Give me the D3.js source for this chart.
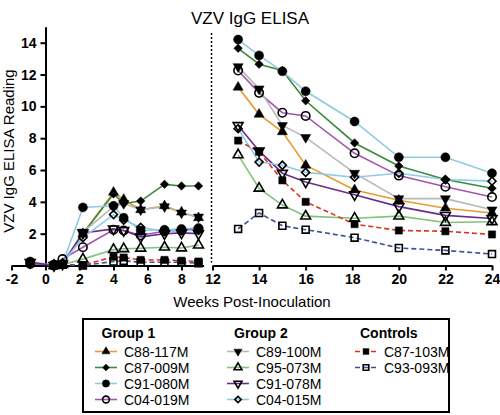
<!DOCTYPE html>
<html><head><meta charset="utf-8">
<script src="https://cdn.jsdelivr.net/npm/d3@7"></script>
<style>
body{margin:0;background:#fff}
svg{display:block}
text{font-family:"Liberation Sans",Arial,sans-serif;fill:#000}
</style>
</head><body>
<svg id="chart" width="500" height="415"></svg>
<script>
// ---- data ----
const weeksEarly = [-0.9, 0.5, 1, 2.2, 4, 4.6, 5.6, 7, 8, 9];
const weeksLate = [13.1, 14, 15, 16, 18.1, 20, 22, 24];
const seriesNames = ["C88-117M","C87-009M","C91-080M","C04-019M","C89-100M","C95-073M","C91-078M","C04-015M","C87-103M","C93-093M"];
const seriesGroups = ["Group 1","Group 1","Group 1","Group 1","Group 2","Group 2","Group 2","Group 2","Controls","Controls"];
const groupNames = ["Group 1","Group 2","Controls"];
const yTicks = [2,4,6,8,10,12,14];
const xTicksEarly = [-2,0,2,4,6,8];
const xTicksLate = [12,14,16,18,20,22,24];

const early_C88_117M = [null, 0, 0.1, 2.0, 4.6, 4.15, 3.5, 3.75, 3.35, 3.0];
const late_C88_117M  = [11.2, 9.5, 8.4, 6.3, 4.75, 4.1, 3.6, 3.3];
const early_C87_009M = [null, 0, 0.1, 2.0, 4.5, 3.9, 4.05, 5.1, 5.0, 5.0];
const late_C87_009M  = [13.65, 12.65, 12.25, 10.35, 7.7, 6.25, 5.4, 4.85];
const early_C91_080M = [0.25, 0, 0.1, 3.65, 3.75, 3.0, 2.2, 2.25, 2.3, 2.35];
const late_C91_080M  = [14.2, 13.2, 12.2, 10.95, 9.05, 6.8, 6.8, 5.8];
const early_C04_019M = [0.1, 0.05, 0.4, 1.15, 2.25, 2.2, 1.9, 2.15, 2.2, 2.3];
const late_C04_019M  = [12.25, 10.85, 9.6, 9.4, 7.05, 5.65, 4.95, 4.3];
const early_C89_100M = [null, 0, 0.1, 2.1, 3.7, 3.9, 3.5, 3.7, 3.3, 3.05];
const late_C89_100M  = [12.5, 11.1, 8.8, 8.05, 5.8, 4.2, 4.2, 3.5];
const early_C95_073M = [null, 0, 0.05, 0.4, 1.0, 1.05, 1.08, 1.15, 1.1, 1.28];
const late_C95_073M  = [6.95, 4.85, 3.8, 3.1, 2.97, 3.1, 2.7, 2.75];
const early_C91_078M = [0.2, 0, 0.1, 2.05, 2.3, 2.2, 1.8, 2.0, 2.05, 2.0];
const late_C91_078M  = [8.8, 7.2, 5.8, 5.25, 4.45, 3.7, 3.15, 2.95];
const early_C04_015M = [null, 0, 0.15, 1.75, 3.2, 2.85, 2.4, 2.15, 2.2, 2.2];
const late_C04_015M  = [8.6, 6.5, 6.3, 5.85, 5.55, 5.8, 5.4, 5.3];
const early_C87_103M = [null, 0.05, 0.05, 0.02, 0.55, 0.5, 0.35, 0.35, 0.3, 0.25];
const late_C87_103M  = [7.85, 7.15, 5.35, 4.0, 2.6, 2.2, 2.15, 1.95];
const early_C93_093M = [null, 0, 0.05, 0, 0.25, 0.3, 0.2, 0.2, 0.2, 0.15];
const late_C93_093M  = [2.3, 3.3, 2.5, 2.25, 1.75, 1.1, 0.95, 0.72];

const earlyValues = [early_C88_117M, early_C87_009M, early_C91_080M, early_C04_019M, early_C89_100M, early_C95_073M, early_C91_078M, early_C04_015M, early_C87_103M, early_C93_093M];
const lateValues  = [late_C88_117M, late_C87_009M, late_C91_080M, late_C04_019M, late_C89_100M, late_C95_073M, late_C91_078M, late_C04_015M, late_C87_103M, late_C93_093M];

// ---- styles ----
const seriesColors = ["#E89A30","#3C8A3C","#8ECBE2","#A555B0","#B8B8B8","#80C47C","#6A2C8C","#8ECBE8","#E0301E","#3A4F9E"];
const seriesDashed = [false,false,false,false,false,false,false,false,true,true];
const seriesShapes = [
  {t:d3.symbolTriangle, s:44, fill:true, rot:0},
  {t:d3.symbolSquare, s:36, fill:true, rot:45},
  {t:d3.symbolCircle, s:64, fill:true, rot:0},
  {t:d3.symbolCircle, s:56, fill:false, rot:0},
  {t:d3.symbolTriangle, s:44, fill:true, rot:180},
  {t:d3.symbolTriangle, s:42, fill:false, rot:0},
  {t:d3.symbolTriangle, s:42, fill:false, rot:180},
  {t:d3.symbolSquare, s:32, fill:false, rot:45},
  {t:d3.symbolSquare, s:52, fill:true, rot:0},
  {t:d3.symbolSquare, s:48, fill:false, rot:0}
];

const svg = d3.select("#chart");

const y = d3.scaleLinear().domain([0,15]).range([265.5, 26.8]);
const xE = d3.scaleLinear().domain([-2, 9.3]).range([11.5, 11.5 + 11.3*17]);
const xL = d3.scaleLinear().domain([12, 24]).range([212.5, 492]);

// title
svg.append("text").attr("x", 250).attr("y", 24).attr("text-anchor","middle")
  .style("font-size","17px").text("VZV IgG ELISA");

// y label
svg.append("text").attr("transform","translate(14,151) rotate(-90)").attr("text-anchor","middle")
  .style("font-size","15px").text("VZV IgG ELISA Reading");

// x label
svg.append("text").attr("x", 252).attr("y", 307).attr("text-anchor","middle")
  .style("font-size","15px").text("Weeks Post-Inoculation");

// axes
function styleAxis(g){
  g.selectAll(".domain").attr("stroke","#000").attr("stroke-width",2);
  g.selectAll(".tick line").attr("stroke","#000").attr("stroke-width",2);
  g.selectAll(".tick text").style("font-size","14px").style("font-weight","bold")
    .style("font-family","'Liberation Sans',Arial,sans-serif");
}
const gxE = svg.append("g").attr("transform",`translate(0,${y(0)})`)
  .call(d3.axisBottom(xE).tickValues(xTicksEarly).tickSize(5).tickSizeOuter(0).tickPadding(4)
    .tickFormat(d => d < 0 ? "-" + Math.abs(d) : d));
styleAxis(gxE);
const gxL = svg.append("g").attr("transform",`translate(0,${y(0)})`)
  .call(d3.axisBottom(xL).tickValues(xTicksLate).tickSize(5).tickSizeOuter(0).tickPadding(4));
styleAxis(gxL);
const gy = svg.append("g").attr("transform",`translate(${xE(0)},0)`)
  .call(d3.axisLeft(y).tickValues(yTicks).tickSize(5).tickSizeOuter(0).tickPadding(4));
styleAxis(gy);

// break dotted line
svg.append("line").attr("x1",211.5).attr("x2",211.5).attr("y1",33).attr("y2",y(0)-3)
  .attr("stroke","#000").attr("stroke-width",1.5).attr("stroke-dasharray","2,2");

// lines
const lineE = d3.line().defined(d => d.v !== null).x(d => xE(d.w)).y(d => y(d.v));
const lineL = d3.line().defined(d => d.v !== null).x(d => xL(d.w)).y(d => y(d.v));

const sym = (i, scale=1) => d3.symbol().type(seriesShapes[i].t).size(seriesShapes[i].s*scale)();

seriesNames.forEach((name, i) => {
  const e = weeksEarly.map((w,k) => ({w, v: earlyValues[i][k]}));
  const l = weeksLate.map((w,k) => ({w, v: lateValues[i][k]}));
  [[e,lineE],[l,lineL]].forEach(([pts, gen]) => {
    svg.append("path").datum(pts).attr("d", gen).attr("fill","none")
      .attr("stroke", seriesColors[i]).attr("stroke-width", 1.6)
      .attr("stroke-dasharray", seriesDashed[i] ? "5,3" : null);
  });
});

for (let i = seriesNames.length - 1; i >= 0; i--) {
  const e = weeksEarly.map((w,k) => ({x: xE(w), v: earlyValues[i][k]})).filter(d => d.v !== null);
  const l = weeksLate.map((w,k) => ({x: xL(w), v: lateValues[i][k]}));
  const sh = seriesShapes[i];
  svg.selectAll(null).data(e.concat(l)).enter().append("path")
    .attr("d", sym(i))
    .attr("transform", d => `translate(${d.x},${y(d.v)}) rotate(${sh.rot})`)
    .attr("fill", sh.fill ? "#000" : "none")
    .attr("stroke", "#000").attr("stroke-width", sh.fill ? 0.5 : 1.6);
}

// legend
svg.append("rect").attr("x",83).attr("y",319).attr("width",366).attr("height",93)
  .attr("fill","none").attr("stroke","#000").attr("stroke-width",2);
const colX = [95, 227, 355];
const headX = [101.5, 234, 360];
groupNames.forEach((g, gi) => {
  svg.append("text").attr("x", headX[gi]).attr("y", 338).style("font-size","14px")
    .style("font-weight","bold").text(g);
  const members = seriesNames.map((n,i)=>i).filter(i => seriesGroups[i] === g);
  members.forEach((i, r) => {
    const cy = 351.5 + r*16;
    svg.append("line").attr("x1", colX[gi]).attr("x2", colX[gi]+22).attr("y1", cy).attr("y2", cy)
      .attr("stroke", seriesColors[i]).attr("stroke-width", 1.6)
      .attr("stroke-dasharray", seriesDashed[i] ? "5,3" : null);
    const sh = seriesShapes[i];
    svg.append("path").attr("d", sym(i, 0.65))
      .attr("transform", `translate(${colX[gi]+11},${cy}) rotate(${sh.rot})`)
      .attr("fill", sh.fill ? "#000" : "none").attr("stroke","#000")
      .attr("stroke-width", sh.fill ? 0.5 : 1.6);
    svg.append("text").attr("x", colX[gi]+29).attr("y", cy+5).style("font-size","14px").text(seriesNames[i]);
  });
});
</script>
</body></html>
